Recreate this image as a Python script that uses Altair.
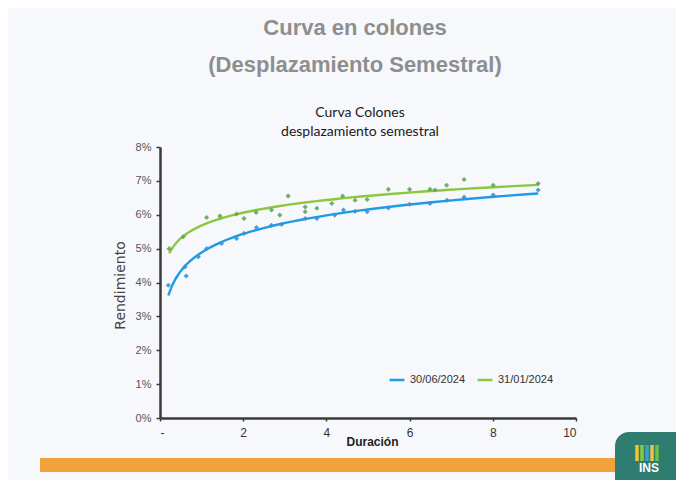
import altair as alt
import pandas as pd

# ---------------- data ----------------
serie_azul = "30/06/2024"
serie_verde = "31/01/2024"

dur_azul = [0.20, 0.60, 0.63, 0.92, 1.12, 1.48, 1.84, 2.02, 2.32, 2.68, 2.92, 3.49,
            3.77, 4.20, 4.41, 4.69, 4.98, 5.49, 6.00, 6.49, 6.90, 7.31, 8.01, 9.09]
rend_azul = [3.92, 4.46, 4.19, 4.76, 5.00, 5.15, 5.30, 5.45, 5.62, 5.69, 5.71, 5.89,
             5.89, 5.99, 6.14, 6.10, 6.09, 6.20, 6.31, 6.33, 6.43, 6.52, 6.58, 6.73]

dur_verde = [0.22, 0.56, 1.12, 1.44, 1.84, 2.02, 2.31, 2.68, 2.88, 3.08, 3.49, 3.49, 3.77,
             4.13, 4.39, 4.69, 4.98, 5.49, 6.00, 6.49, 6.61, 6.89, 7.31, 8.01, 9.09]
rend_verde = [5.00, 5.35, 5.92, 5.96, 6.02, 5.89, 6.07, 6.14, 5.99, 6.55, 6.23, 6.09, 6.19,
              6.33, 6.55, 6.43, 6.45, 6.75, 6.75, 6.75, 6.73, 6.87, 7.04, 6.87, 6.92]

x_ticks = [0, 2, 4, 6, 8, 10]
y_ticks = [0, 1, 2, 3, 4, 5, 6, 7, 8]

titulo_diapositiva = ["Curva en colones", "(Desplazamiento Semestral)"]
titulo_grafico = ["Curva Colones", "desplazamiento semestral"]
logo_texto = ["INS"]
logo_colores = ["#f2c230", "#8dc63f", "#3aa0d8", "#f2c230", "#6cbf4a"]

series = [serie_azul, serie_verde]
line_colors = ["#1e9be6", "#8dc63f"]
point_colors = ["#3f8fd2", "#5ea65a"]

df = pd.DataFrame({
    "Duración": dur_azul + dur_verde,
    "Rendimiento": rend_azul + rend_verde,
    "Serie": [serie_azul] * len(dur_azul) + [serie_verde] * len(dur_verde),
})

W, H = 416, 271
FONT = "Liberation Sans"

x_enc = alt.X(
    "Duración:Q",
    scale=alt.Scale(domain=[0, 10], nice=False),
    axis=alt.Axis(
        values=x_ticks,
        labelExpr="datum.value == 0 ? '-' : datum.label",
        labelOverlap=False,
        title="Duración",
        grid=False,
        domainColor="#3a3a3a", domainWidth=2.5,
        tickColor="#3a3a3a", tickSize=3, tickWidth=1.5,
        labelFont=FONT, labelFontSize=12, labelColor="#333",
        labelPadding=6,
        titleFont=FONT, titleFontSize=12, titleFontWeight="bold", titleColor="#222",
        titleX=212, titleY=18,
    ),
)
y_enc = alt.Y(
    "Rendimiento:Q",
    scale=alt.Scale(domain=[0, 8], nice=False),
    axis=alt.Axis(
        values=y_ticks,
        labelExpr="datum.value + '%'",
        labelOverlap=False,
        title="Rendimiento",
        grid=False,
        domainColor="#3a3a3a", domainWidth=2.5,
        tickColor="#3a3a3a", tickSize=4, tickWidth=1.5,
        labelFont=FONT, labelFontSize=11, labelColor="#555",
        labelPadding=5,
        titleFont="DejaVu Sans", titleFontSize=14, titleFontWeight="normal", titleColor="#444",
        titleX=-40, titleY=138, titleAngle=-90, titleAlign="center", titleBaseline="middle",
    ),
)

lines = alt.Chart(df).transform_regression(
    "Duración", "Rendimiento", method="log", groupby=["Serie"]
).mark_line(strokeWidth=2.4).encode(
    x=x_enc,
    y=y_enc,
    color=alt.Color(
        "Serie:N",
        scale=alt.Scale(domain=series, range=line_colors),
        legend=alt.Legend(
            orient="none", legendX=228, legendY=224, direction="horizontal",
            title=None, symbolType="stroke", symbolStrokeWidth=2.5, symbolSize=220,
            labelFont=FONT, labelFontSize=11, labelColor="#333", columnPadding=6,
        ),
    ),
)

points = alt.Chart(df).mark_point(shape="diamond", filled=True, size=26, opacity=0.9).encode(
    x=x_enc,
    y=y_enc,
    color=alt.Color("Serie:N", scale=alt.Scale(domain=series, range=point_colors), legend=None),
)

# ---------------- slide decorations ----------------
bar = alt.Chart(pd.DataFrame({"k": [0]})).mark_rect(color="#f2a23c").encode(
    x=alt.value(-120), x2=alt.value(456), y=alt.value(311), y2=alt.value(325)
)
logo_box = alt.Chart(pd.DataFrame({"k": [0]})).mark_rect(
    color="#2f7d70", cornerRadiusTopLeft=14
).encode(x=alt.value(455), x2=alt.value(530), y=alt.value(285), y2=alt.value(340))
logo_df = pd.DataFrame({"c": logo_colores})
logo_bars = alt.Chart(logo_df).transform_window(
    i="row_number()"
).transform_calculate(
    px="472 + 5 * datum.i"
).mark_rect(width=3.5).encode(
    x=alt.X("px:Q", scale=None),
    y=alt.value(298), y2=alt.value(314),
    color=alt.Color("c:N", scale=None),
)
logo = alt.Chart(pd.DataFrame({"t": logo_texto})).mark_text(
    font=FONT, fontSize=12, fontWeight="bold", color="white", align="center", baseline="middle"
).encode(text="t:N", x=alt.value(489), y=alt.value(321))

slide_title = alt.Chart(pd.DataFrame({"t": titulo_diapositiva, "yy": [-119, -82]})).mark_text(
    font=FONT, fontSize=22, fontWeight="bold", color="#8e8e8e", align="center", baseline="middle"
).encode(text="t:N", x=alt.value(195), y=alt.Y("yy:Q", scale=None))

chart_title = alt.Chart(pd.DataFrame({"t": titulo_grafico, "yy": [-34, -15]})).mark_text(
    font="Lato", fontSize=14, color="#1a1a1a", align="center", baseline="middle"
).encode(text="t:N", x=alt.value(200), y=alt.Y("yy:Q", scale=None))

chart = alt.layer(
    bar, logo_box, logo_bars, logo, slide_title, chart_title, lines, points
).resolve_scale(color="independent").properties(
    width=W, height=H,
    autosize=alt.AutoSizeParams(type="none"),
    padding={"left": 152, "top": 139, "right": 100, "bottom": 62},
).configure(background="#f7f8fb").configure_view(stroke=None)

chart.save("out.html", embed_options={"renderer": "svg", "actions": False})
